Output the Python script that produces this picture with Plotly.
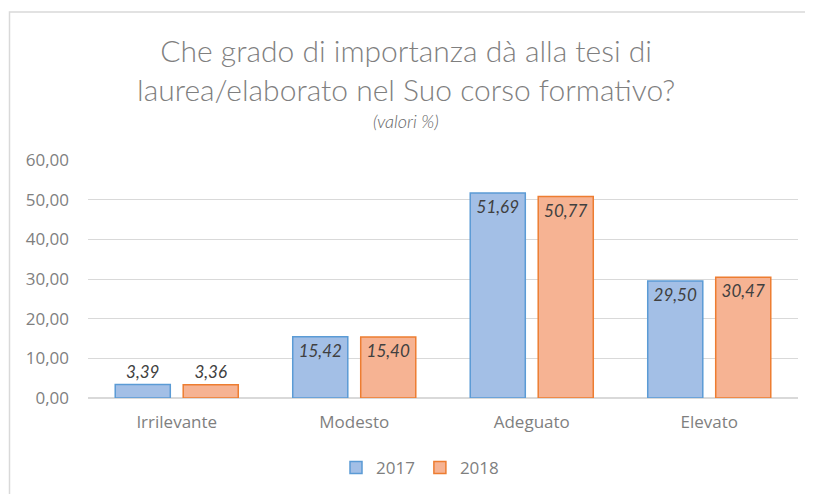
import plotly.graph_objects as go

categories = ["Irrilevante", "Modesto", "Adeguato", "Elevato"]
values_2017 = [3.39, 15.42, 51.69, 29.50]
values_2018 = [3.36, 15.40, 50.77, 30.47]
series_names = ["2017", "2018"]
y_ticks = [0, 10, 20, 30, 40, 50, 60]

FONT = "Lato, Open Sans, sans-serif"
AXFONT = "Open Sans, sans-serif"
GRAY = "#7f7f7f"

fig = go.Figure()
fig.add_trace(go.Bar(
    x=categories, y=values_2017, name=series_names[0],
    marker=dict(color="#a3bfe6", line=dict(color="#5b9bd5", width=1.5)),
    texttemplate="%{y:.2f}", textposition="auto", insidetextanchor="end",
    constraintext="none",
    textfont=dict(family=FONT, size=17, color="#404040", style="italic"),
))
fig.add_trace(go.Bar(
    x=categories, y=values_2018, name=series_names[1],
    marker=dict(color="#f6b393", line=dict(color="#ed7d31", width=1.5)),
    texttemplate="%{y:.2f}", textposition="auto", insidetextanchor="end",
    constraintext="none",
    textfont=dict(family=FONT, size=17, color="#404040", style="italic"),
))

# page body has an 8px margin; work in reference-page pixels, shifted by OFF
OFF = 8
W, H = 813 - OFF, 494 - OFF
PL, PR, PT, PB = 88, 798, 160, 398  # plot area in reference pixels
L, R, T, B = PL - OFF, W - (PR - OFF), PT - OFF, H - (PB - OFF)
pw, ph = W - L - R, H - T - B

def px(x):
    return (x - PL) / pw

def py(y):
    return (PB - y) / ph

fig.update_layout(
    width=W, height=H,
    margin=dict(l=L, r=R, t=T, b=B, autoexpand=False),
    paper_bgcolor="white", plot_bgcolor="white",
    separators=",.",
    barmode="group", bargap=0.234, bargroupgap=0.19,
    font=dict(family=AXFONT, color=GRAY, size=17),
    showlegend=True,
    legend=dict(orientation="h", x=px(420), y=py(468), xanchor="center", yanchor="middle",
                font=dict(size=17, color=GRAY, family=AXFONT), itemwidth=30,
                traceorder="normal", tracegroupgap=0),
    xaxis=dict(showgrid=False, showline=False, ticks="", ticklabelstandoff=12,
               tickfont=dict(size=17, color=GRAY, family=AXFONT)),
    yaxis=dict(range=[0, 60], tickvals=y_ticks, tickformat=".2f", showgrid=True,
               gridcolor="#d9d9d9", gridwidth=1, zeroline=True, zerolinecolor="#d9d9d9",
               zerolinewidth=1.5, tickfont=dict(size=17, color=GRAY, family=AXFONT), ticks="",
               ticklabelstandoff=18),
    shapes=[dict(type="rect", xref="paper", yref="paper", x0=px(9.5), x1=px(830),
                 y0=py(520), y1=py(12), line=dict(color="#d9d9d9", width=1.5),
                 fillcolor="rgba(0,0,0,0)", layer="below")],
    annotations=[
        dict(text="Che grado di importanza dà alla tesi di<br>laurea/elaborato nel Suo corso formativo?",
             xref="paper", yref="paper", x=px(406), y=py(69), xanchor="center", yanchor="middle",
             showarrow=False, font=dict(size=30, color=GRAY, family=FONT, weight=300)),
        dict(text="<i>(valori %)</i>", xref="paper", yref="paper", x=px(406), y=py(121),
             xanchor="center", yanchor="middle", showarrow=False,
             font=dict(size=18, color="#666666", family=FONT, weight=300)),
    ],
)

fig.write_html("out.html")
